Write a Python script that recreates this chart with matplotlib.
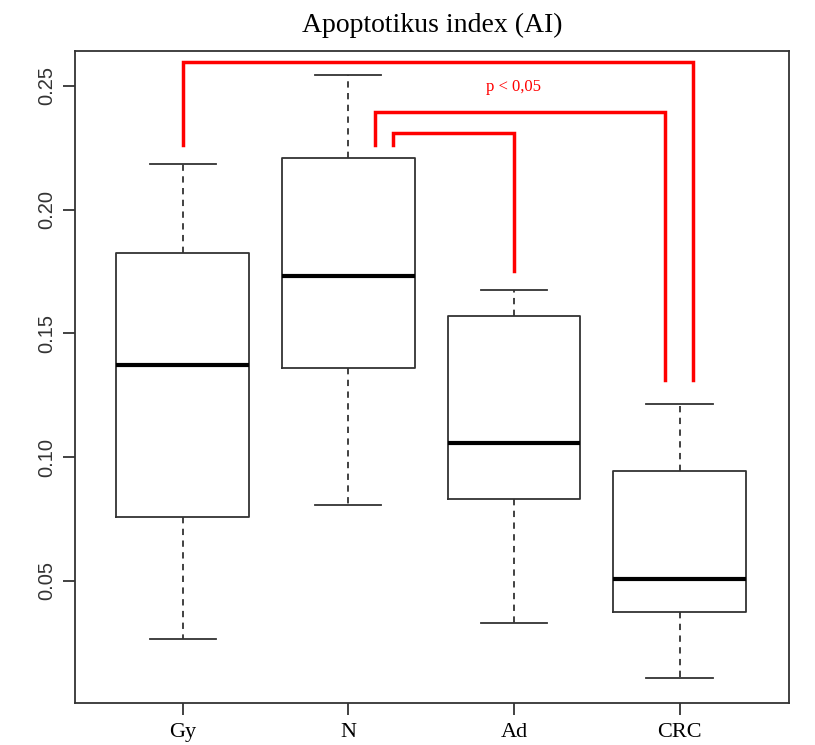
import matplotlib
matplotlib.use("Agg")
import matplotlib.pyplot as plt

categories = ["Gy", "N", "Ad", "CRC"]
whisker_low = [0.0264, 0.0807, 0.0330, 0.0108]
q1 = [0.0759, 0.1361, 0.0831, 0.0372]
median = [0.1373, 0.1733, 0.1058, 0.0508]
q3 = [0.1826, 0.2210, 0.1571, 0.0945]
whisker_high = [0.2184, 0.2545, 0.1676, 0.1215]
y_ticks = [0.05, 0.10, 0.15, 0.20, 0.25]
y_ticklabels = ["0.05", "0.10", "0.15", "0.20", "0.25"]

# significance brackets: (x_left, x_right, y_left_bottom, y_top, y_right_bottom)
brackets = [
    (1.00, 4.08, 0.2261, 0.2597, 0.1311),
    (2.16, 3.91, 0.2261, 0.2395, 0.1311),
    (2.27, 3.00, 0.2261, 0.2309, 0.1753),
]
sig_text = "p < 0,05"
sig_pos = (3.0, 0.2496)

fig = plt.figure(figsize=(8.15, 7.45), dpi=100)
ax = fig.add_axes([0.092, 0.0564, 0.876, 0.875])

stats = []
for i, c in enumerate(categories):
    stats.append(dict(label=c, whislo=whisker_low[i], q1=q1[i], med=median[i],
                      q3=q3[i], whishi=whisker_high[i], fliers=[]))

edge = "#333333"
ax.bxp(stats, positions=[1, 2, 3, 4], widths=0.8, showfliers=False,
       boxprops=dict(color=edge, linewidth=1.3),
       medianprops=dict(color="black", linewidth=3.0, solid_capstyle="butt"),
       whiskerprops=dict(color=edge, linewidth=1.3, linestyle=(0, (3.5, 3))),
       capprops=dict(color=edge, linewidth=1.3),
       capwidths=0.4)

for (xl, xr, yl, yt, yr) in brackets:
    ax.plot([xl, xl, xr, xr], [yl, yt, yt, yr], color="#ff0000", linewidth=2.5,
            solid_joinstyle="miter", zorder=5)

ax.text(sig_pos[0], sig_pos[1], sig_text, color="#ff0000", ha="center", va="center",
        fontsize=12, family="Liberation Serif")

ax.set_xlim(0.35, 4.66)
ax.set_ylim(0.0006, 0.2641)
ax.set_yticks(y_ticks)
ax.set_yticklabels(y_ticklabels, rotation=90, va="center", family="Liberation Sans",
                   fontsize=14.5, color="#333333")
ax.set_xticks([1, 2, 3, 4])
ax.set_xticklabels(categories, family="Liberation Serif", fontsize=16)
ax.tick_params(axis="both", length=8.5, width=1.3, color=edge, direction="out")
ax.tick_params(axis="y", pad=5)
ax.tick_params(axis="x", pad=6)
for s in ax.spines.values():
    s.set_color(edge)
    s.set_linewidth(1.3)

fig.text(0.530, 0.966, "Apoptotikus index (AI)", ha="center", va="center",
         family="Liberation Serif", fontsize=20)

fig.savefig("out.png", dpi=100)
